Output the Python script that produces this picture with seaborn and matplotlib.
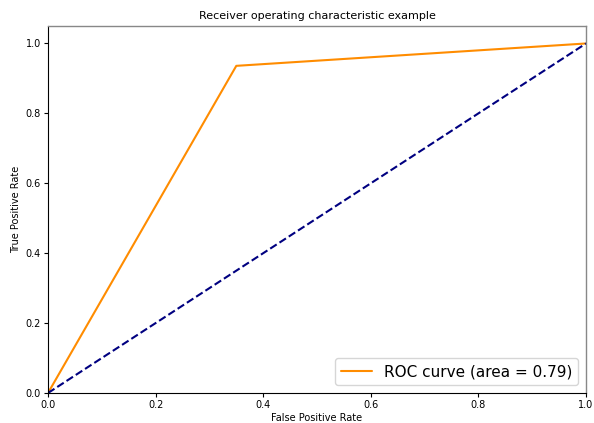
import matplotlib
matplotlib.use("Agg")
import matplotlib.pyplot as plt
import seaborn as sns
import pandas as pd

fpr = [0.0, 0.35, 1.0]
tpr = [0.0, 0.936, 1.0]
diag_x = [0.0, 1.0]
diag_y = [0.0, 1.0]
roc_auc = 0.79

sns.set_style("ticks")
plt.rcParams['font.family'] = ['DejaVu Sans']
plt.rcParams['text.color'] = 'black'
plt.rcParams['axes.labelcolor'] = 'black'
plt.rcParams['xtick.color'] = 'black'
plt.rcParams['ytick.color'] = 'black'

fig = plt.figure(figsize=(5.94, 4.23), dpi=100)
ax = fig.add_axes([48/594, 1 - 393/423, (586-48)/594, (393-26)/423])

df = pd.DataFrame({"fpr": fpr, "tpr": tpr})
sns.lineplot(data=df, x="fpr", y="tpr", ax=ax, color="darkorange", lw=1.5,
             sort=False, estimator=None,
             label="ROC curve (area = %0.2f)" % roc_auc)
ax.plot(diag_x, diag_y, color="navy", lw=1.5, linestyle="--")
ax.set_xlim(0.0, 1.0)
ax.set_ylim(0.0, 1.05)
ax.set_xlabel("False Positive Rate", fontsize=7, labelpad=2)
ax.set_ylabel("True Positive Rate", fontsize=7, labelpad=3)
ax.set_title("Receiver operating characteristic example", fontsize=8, pad=5)
ax.tick_params(labelsize=7, length=3, width=0.8, pad=2)
for side in ["left", "bottom"]:
    ax.spines[side].set_linewidth(0.8)
    ax.spines[side].set_color("black")
for side in ["top", "right"]:
    ax.spines[side].set_linewidth(1.0)
    ax.spines[side].set_color("#888888")
ax.legend(loc="lower right", fontsize=11, frameon=True)
fig.savefig("out.png", dpi=100)
